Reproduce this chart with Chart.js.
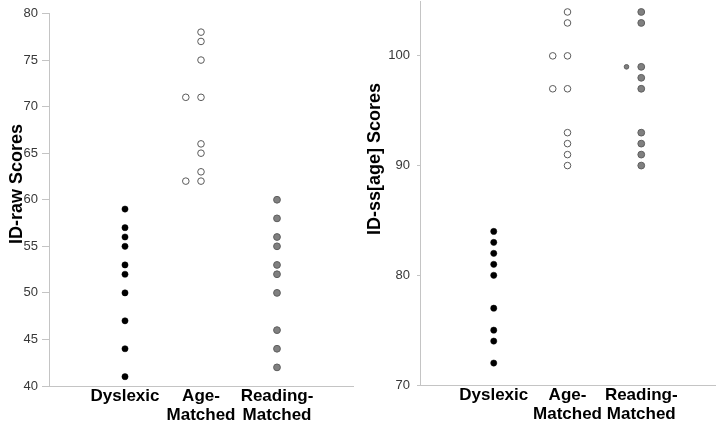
<!DOCTYPE html>
<html>
<head>
<meta charset="utf-8">
<script src="https://cdn.jsdelivr.net/npm/chart.js@4/dist/chart.umd.min.js"></script>
<style>
  html, body { margin: 0; padding: 0; background: #fff; }
  #wrap { position: relative; width: 720px; height: 423px; overflow: hidden; }
  .panel { position: absolute; width: 360px; }
</style>
</head>
<body>
<div id="wrap">
  <div class="panel" style="left:0;top:0;height:423px"><canvas id="c1" width="360" height="423"></canvas></div>
  <div class="panel" style="left:360px;top:-4px;height:427px"><canvas id="c2" width="360" height="427"></canvas></div>
</div>
<script>
// ---- data ----
const categories = [["Dyslexic"], ["Age-", "Matched"], ["Reading-", "Matched"]];
const jitter = 0.2; // sideways shift used for tied scores

// Left panel: ID-raw Scores
const rawTitle = "ID-raw Scores";
const rawTicks = [40, 45, 50, 55, 60, 65, 70, 75, 80];
const rawDyslexic = [59, 57, 56, 55, 53, 52, 50, 47, 44, 41];
const rawAgeMatched = [78, 77, 75, 71, 66, 65, 63, 62];
const rawAgeMatchedTied = [71, 62];
const rawReadingMatched = [60, 58, 56, 55, 53, 52, 50, 46, 44, 42];
const rawReadingMatchedTied = [];

// Right panel: ID-ss[age] Scores
const ssTitle = "ID-ss[age] Scores";
const ssTicks = [70, 80, 90, 100];
const ssDyslexic = [84, 83, 82, 81, 80, 77, 75, 74, 72];
const ssAgeMatched = [104, 103, 100, 97, 93, 92, 91, 90];
const ssAgeMatchedTied = [100, 97];
const ssReadingMatched = [104, 103, 99, 98, 97, 93, 92, 91, 90];
const ssReadingMatchedTied = [99];

const FONT = "'Liberation Sans', Arial, Helvetica, sans-serif";

function pts(vals, x) { return vals.map(v => ({ x: x, y: v })); }

function makeDatasets(d, a, at, r, rt) {
  return [
    { label: "Dyslexic", data: pts(d, 1), backgroundColor: "#000", borderColor: "#000", borderWidth: 0.5, pointRadius: 3.1 },
    { label: "Age-Matched", data: pts(a, 2), backgroundColor: "#fff", borderColor: "#5a5a5a", borderWidth: 1, pointRadius: 3.3 },
    { label: "Age-Matched tied", data: pts(at, 2 - jitter), backgroundColor: "#fff", borderColor: "#5a5a5a", borderWidth: 1, pointRadius: 3.3 },
    { label: "Reading-Matched", data: pts(r, 3), backgroundColor: "#808080", borderColor: "#5e5e5e", borderWidth: 1, pointRadius: 3.4 },
    { label: "Reading-Matched tied", data: pts(rt, 3 - jitter), backgroundColor: "#808080", borderColor: "#5e5e5e", borderWidth: 1, pointRadius: 2.3 }
  ];
}

function titlePlugin(text, cx, cy) {
  return {
    id: "ytitle",
    afterDraw(chart) {
      const ctx = chart.ctx;
      ctx.save();
      ctx.translate(cx, cy);
      ctx.rotate(-Math.PI / 2);
      ctx.font = "bold 18px " + FONT;
      ctx.fillStyle = "#000";
      ctx.textAlign = "center";
      ctx.textBaseline = "middle";
      ctx.fillText(text, 0, 0);
      ctx.restore();
    }
  };
}

function makeChart(id, datasets, opt) {
  return new Chart(document.getElementById(id), {
    type: "scatter",
    data: { datasets: datasets },
    options: {
      responsive: false,
      animation: false,
      events: [],
      layout: { padding: opt.pad },
      plugins: { legend: { display: false }, tooltip: { enabled: false } },
      scales: {
        x: {
          type: "linear",
          min: 0, max: 4,
          afterBuildTicks(s) { s.ticks = [0, 1, 2, 3, 4].map(v => ({ value: v })); },
          afterFit(s) { s.height = opt.xh; s.paddingLeft = 0; s.paddingRight = 0; },
          ticks: {
            autoSkip: false, maxRotation: 0, minRotation: 0,
            padding: 1,
            color: "#000",
            font: { family: FONT, size: 17, weight: "bold", lineHeight: 1.12 },
            callback: v => (v >= 1 && v <= 3 ? categories[v - 1] : "")
          },
          grid: { display: true, drawOnChartArea: false, drawTicks: false, color: "#c4c4c4" },
          border: { display: true, color: "#c4c4c4", width: 1 }
        },
        y: {
          type: "linear",
          min: opt.min, max: opt.max,
          afterBuildTicks(s) { s.ticks = opt.ticks.map(v => ({ value: v })); },
          afterFit(s) { s.width = opt.yw; s.paddingTop = 0; s.paddingBottom = 0; },
          ticks: {
            padding: opt.tpad,
            color: "#383838",
            font: { family: FONT, size: 13 }
          },
          grid: { display: true, drawOnChartArea: false, drawTicks: true, tickLength: opt.tl, color: "#c4c4c4" },
          border: { display: true, color: "#c4c4c4", width: 1 }
        }
      }
    },
    plugins: [titlePlugin(opt.title, opt.tx, opt.ty)]
  });
}

makeChart("c1",
  makeDatasets(rawDyslexic, rawAgeMatched, rawAgeMatchedTied, rawReadingMatched, rawReadingMatchedTied),
  { pad: { top: 13.5, right: 7, bottom: 0, left: 0 }, xh: 37, yw: 49, min: 40, max: 80, ticks: rawTicks,
    tpad: 4, tl: 7, title: rawTitle, tx: 17, ty: 184 });

makeChart("c2",
  makeDatasets(ssDyslexic, ssAgeMatched, ssAgeMatchedTied, ssReadingMatched, ssReadingMatchedTied),
  { pad: { top: 0, right: 2, bottom: 0, left: 0 }, xh: 38, yw: 60, min: 70, max: 105, ticks: ssTicks,
    tpad: 7, tl: 3, title: ssTitle, tx: 15, ty: 163 });
</script>
</body>
</html>
